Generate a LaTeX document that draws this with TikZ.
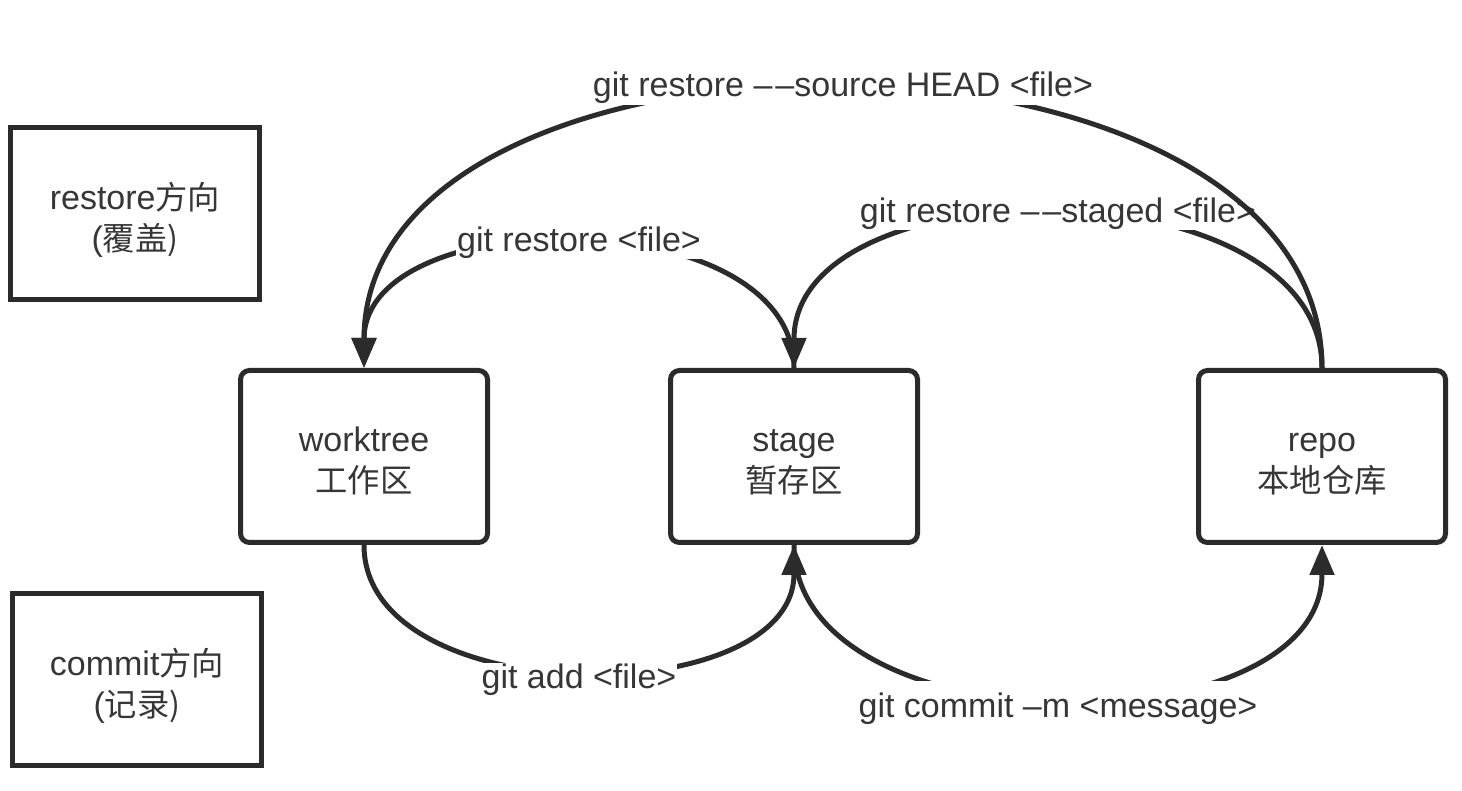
\documentclass[tikz,border=0pt]{standalone}
\usepackage{fontspec}
\setmainfont{Liberation Sans}
\newfontfamily\cjk[Scale=0.95]{Noto Sans CJK SC}
\usetikzlibrary{arrows.meta}
\definecolor{linegray}{HTML}{2B2B2B}
\definecolor{textgray}{HTML}{363636}
\newcommand{\padtop}[1]{\rule{0pt}{#1}}
\newcommand{\ddash}{–\kern3pt–}
\tikzset{
  area/.style={draw=linegray,line width=5pt,rounded corners=9pt,minimum width=247pt,minimum height=172pt,align=center,text=textgray,font=\fontsize{34}{41}\selectfont},
  legend/.style={area,rounded corners=0pt,minimum width=249pt},
  cmd/.style={fill=white,inner sep=1pt,text=textgray,font=\fontsize{34}{41}\selectfont},
  flow/.style={draw=linegray,line width=5pt,-{Triangle[length=30pt,width=24pt]}},
}

\begin{document}
\begin{tikzpicture}[x=1pt,y=1pt]
\useasboundingbox (0,0) rectangle (1462,790);
\node[legend] (restoredir) at (135,576.5) {\padtop{40pt}restore\cjk{方向}\\(\cjk{覆盖})};
\node[legend] (commitdir) at (137,110.5) {\padtop{40pt}commit\cjk{方向}\\(\cjk{记录})};
\node[area] (worktree) at (364,333.5) {\padtop{34pt}worktree\\\cjk{工作区}};
\node[area] (stage) at (794,333.5) {\padtop{34pt}stage\\\cjk{暂存区}};
\node[area] (repo) at (1322,333.5) {\padtop{34pt}repo\\\cjk{本地仓库}};
\draw[flow] (stage.north) to[out=90,in=90] node[cmd] (grestore) {git restore <file>} (worktree.north);
\draw[flow] (repo.north) to[out=90,in=90] node[cmd] (gstaged) {git restore \ddash staged <file>} (stage.north);
\draw[flow] (repo.north) to[out=90,in=90] node[cmd] (gsource) {git restore \ddash source HEAD <file>} (worktree.north);
\draw[flow] (worktree.south) to[out=-90,in=-90] node[cmd,yshift=-9pt] (gadd) {git add <file>} (stage.south);
\draw[flow] (stage.south) to[out=-90,in=-90] node[cmd,inner ysep=12pt,yshift=-9pt] (gcommit) {git commit –m <message>} (repo.south);
\end{tikzpicture}
\end{document}
